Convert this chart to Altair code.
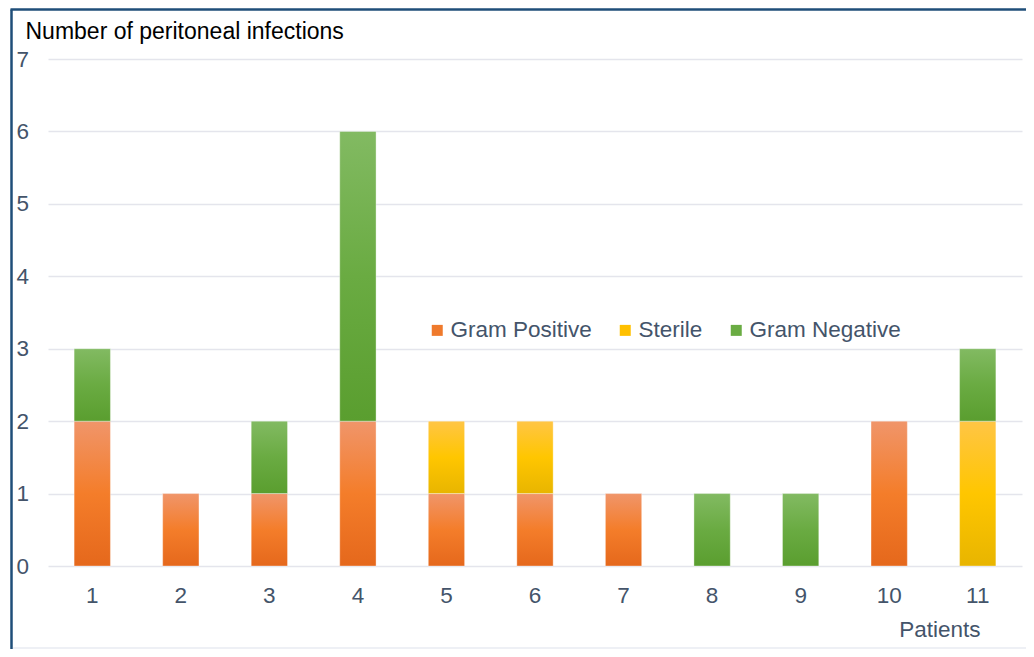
import altair as alt
import pandas as pd

patients = ["1", "2", "3", "4", "5", "6", "7", "8", "9", "10", "11"]
types = ["Gram Positive", "Sterile", "Gram Negative"]
gram_positive = [2, 1, 1, 2, 1, 1, 1, 0, 0, 2, 0]
sterile = [0, 0, 0, 0, 1, 1, 0, 0, 0, 0, 2]
gram_negative = [1, 0, 1, 4, 0, 0, 0, 1, 1, 0, 1]
y_ticks = [0, 1, 2, 3, 4, 5, 6, 7]

series = {"Gram Positive": gram_positive, "Sterile": sterile, "Gram Negative": gram_negative}
rows = []
for order, t in enumerate(types):
    for p, v in zip(patients, series[t]):
        rows.append({"patient": p, "type": t, "count": v, "order": order})
df = pd.DataFrame(rows)

LABEL = "#44546a"
FONT = "Liberation Sans"

gradients = {
    "Gram Positive": ["#f0956a", "#f47d2a", "#e5681c"],
    "Sterile": ["#ffc545", "#ffc600", "#e8b500"],
    "Gram Negative": ["#82ba62", "#6aab42", "#5a9e2f"],
}
legend_colors = ["#ef7a2c", "#ffc000", "#6aac43"]

x_enc = alt.X(
    "patient:N",
    sort=patients,
    scale=alt.Scale(paddingInner=0.59, paddingOuter=0.295),
    axis=alt.Axis(
        labelAngle=0, domain=False, ticks=False, grid=False,
        labelPadding=18, labelFontSize=22.5, labelColor=LABEL, labelFont=FONT,
        title="Patients", titleX=932, titleY=70, titleAlign="right",
        titleBaseline="alphabetic", titleColor=LABEL, titleFontSize=22.5,
        titleFontWeight="normal", titleFont=FONT,
    ),
)
y_enc = alt.Y(
    "y0:Q",
    scale=alt.Scale(domain=[0, 7], nice=False),
    axis=alt.Axis(
        values=y_ticks, grid=True, gridColor="#e4e5ec", gridWidth=1.5,
        domain=False, ticks=False, tickSize=0, labelAlign="left", labelBaseline="middle",
        labelPadding=32, labelFontSize=22.5, labelColor=LABEL, labelFont=FONT,
        title="Number of peritoneal infections", titleAngle=0, titleX=-23, titleY=-21,
        titleAlign="left", titleBaseline="alphabetic", titleFontSize=23,
        titleFontWeight="normal", titleColor="#000000", titleFont=FONT,
    ),
)

base = alt.Chart(df).transform_stack(
    stack="count", groupby=["patient"], as_=["y0", "y1"],
    sort=[alt.SortField("order", order="ascending")],
).transform_filter(alt.datum.count > 0)

layers = []
for t in types:
    g = gradients[t]
    grad = alt.LinearGradient(
        gradient="linear", x1=0, x2=0, y1=0, y2=1,
        stops=[
            alt.GradientStop(color=g[0], offset=0),
            alt.GradientStop(color=g[1], offset=0.5),
            alt.GradientStop(color=g[2], offset=1),
        ],
    )
    layers.append(
        base.transform_filter(alt.datum.type == t)
        .mark_bar(color=grad, stroke="#ffffff", strokeWidth=1, strokeOpacity=0.35)
        .encode(x=x_enc, y=y_enc, y2="y1:Q")
    )

legend_layer = alt.Chart(df).mark_square(opacity=0, size=1).encode(
    color=alt.Color(
        "type:N",
        sort=types,
        scale=alt.Scale(domain=types, range=legend_colors),
        legend=alt.Legend(
            title=None, orient="none", legendX=378, legendY=260, direction="horizontal",
            labelFontSize=22.5, labelColor=LABEL, labelFont=FONT, symbolType="square",
            symbolSize=121, symbolStrokeWidth=0, symbolOpacity=1, labelOffset=2,
            columnPadding=22, padding=0,
        ),
    )
)

frame = alt.Data(values=[{"k": 1}])
left_line = alt.Chart(frame).mark_rule(color="#1f4e79", strokeWidth=2.5).encode(
    x=alt.value(-36.5), y=alt.value(-49.5), y2=alt.value(600)
)
top_line = alt.Chart(frame).mark_rule(color="#1f4e79", strokeWidth=2.5).encode(
    x=alt.value(-37.5), x2=alt.value(990), y=alt.value(-49.5)
)
bottom_line = alt.Chart(frame).mark_rule(color="#eef0f5", strokeWidth=2).encode(
    x=alt.value(-35), x2=alt.value(990), y=alt.value(589)
)

chart = alt.layer(*layers, legend_layer, left_line, top_line, bottom_line).properties(
    width=974, height=507,
    autosize=alt.AutoSizeParams(type="none"),
    padding={"left": 40, "top": 51, "right": 4, "bottom": 83},
).configure(font=FONT).configure_view(stroke=None)

chart.save("out.html", embed_options={"renderer": "svg", "actions": False})
